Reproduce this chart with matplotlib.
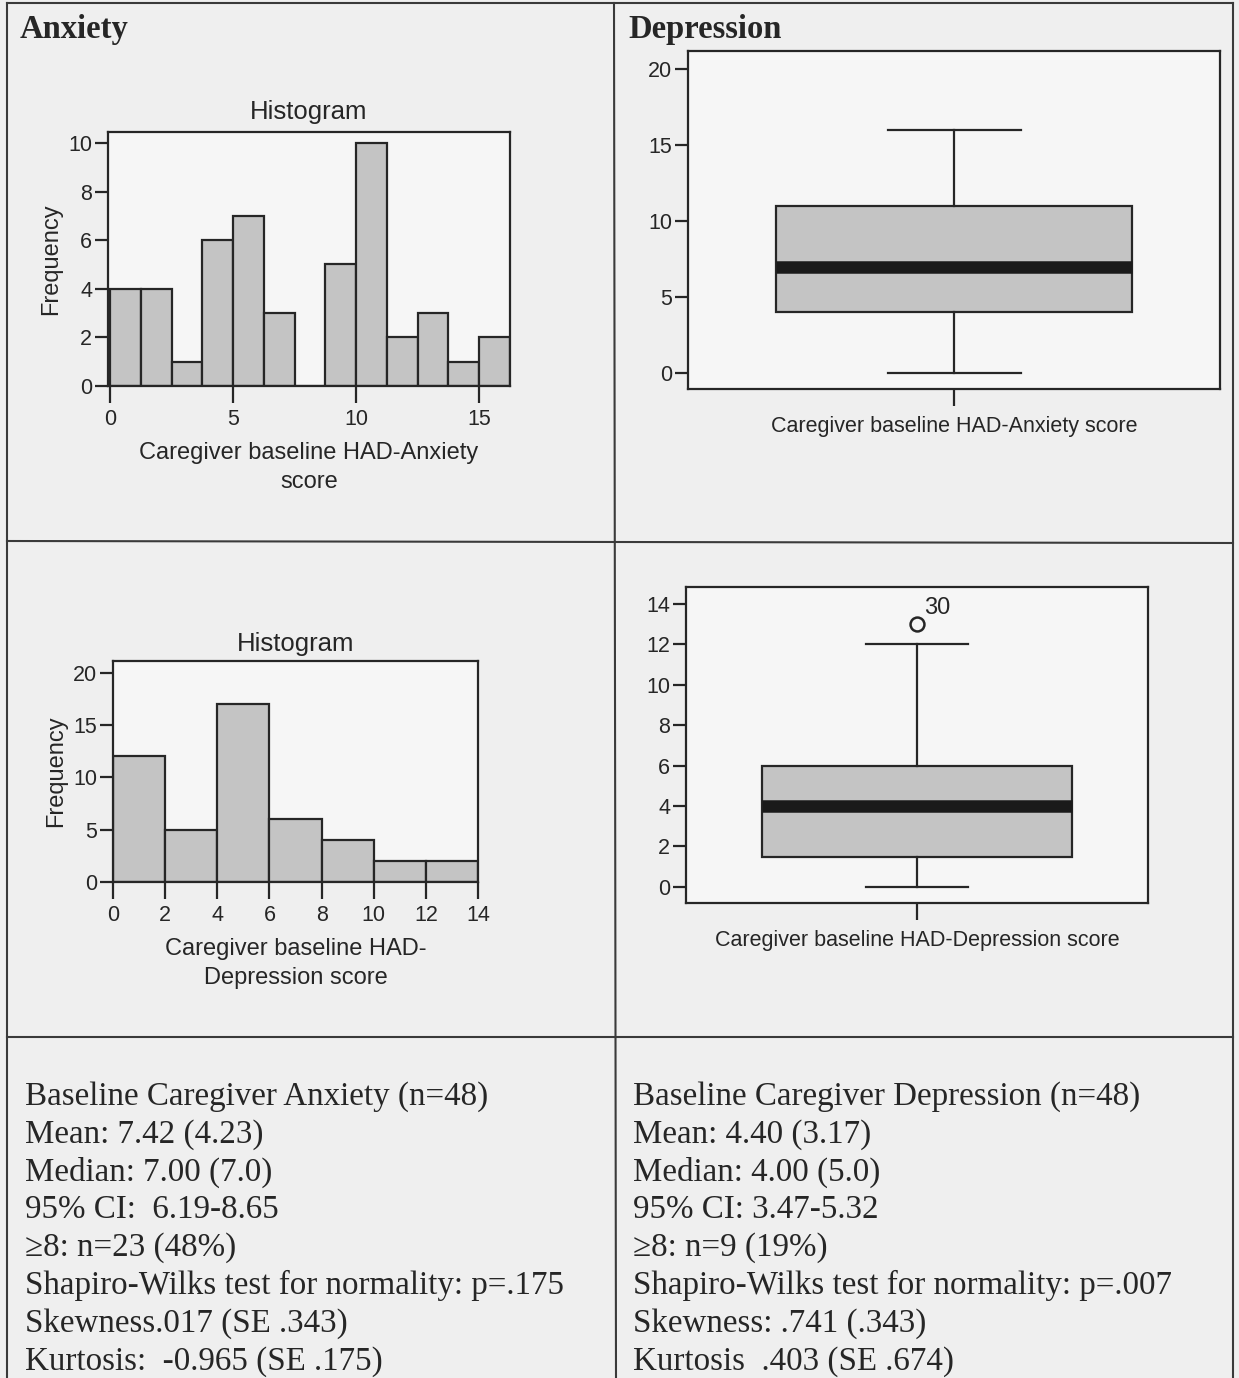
import numpy as np
import matplotlib
matplotlib.use("Agg")
import matplotlib.pyplot as plt

# data
anx_bin_width = 1.25
anx_counts = [4, 4, 1, 6, 7, 3, 0, 5, 10, 2, 3, 1, 2]
dep_bin_width = 2
dep_counts = [12, 5, 17, 6, 4, 2, 2]

anx_box = dict(whislo=0, q1=4, med=7, q3=11, whishi=16, fliers=[])
dep_box = dict(whislo=0, q1=1.5, med=4, q3=6, whishi=12, fliers=[13])
dep_outlier_id = "30"

anx_text = ["Baseline Caregiver Anxiety (n=48)",
            "Mean: 7.42 (4.23)",
            "Median: 7.00 (7.0)",
            "95% CI:  6.19-8.65",
            "\u22658: n=23 (48%)",
            "Shapiro-Wilks test for normality: p=.175",
            "Skewness.017 (SE .343)",
            "Kurtosis:  -0.965 (SE .175)"]
dep_text = ["Baseline Caregiver Depression (n=48)",
            "Mean: 4.40 (3.17)",
            "Median: 4.00 (5.0)",
            "95% CI: 3.47-5.32",
            "\u22658: n=9 (19%)",
            "Shapiro-Wilks test for normality: p=.007",
            "Skewness: .741 (.343)",
            "Kurtosis  .403 (SE .674)"]

W, H = 1239, 1378
BG = "#efefef"
AX_BG = "#f6f6f6"
BAR = "#c4c4c4"
INK = "#262626"
SANS = ["Liberation Sans", "DejaVu Sans"]
SERIF = ["Liberation Serif", "DejaVu Serif"]

fig = plt.figure(figsize=(W / 100, H / 100), dpi=100, facecolor=BG)


def box_px(l, t, r, b):
    return [l / W, 1 - b / H, (r - l) / W, (b - t) / H]


# table grid
grid = fig.add_axes([0, 0, 1, 1])
grid.set_xlim(0, W)
grid.set_ylim(H, 0)
grid.axis("off")
for xs, ys in [([7, 7], [3, H]), ([1233, 1233], [3, H]), ([7, 1233], [3, 3]),
               ([614, 616], [3, H]), ([7, 1233], [541, 543]), ([7, 1233], [1037, 1037])]:
    grid.plot(xs, ys, color="#3a3a3a", lw=1.5)

grid.text(20, 38, "Anxiety", family=SERIF, fontsize=23.5, fontweight="bold", color=INK)
grid.text(628, 38, "Depression", family=SERIF, fontsize=23.5, fontweight="bold", color=INK)

for i, line in enumerate(anx_text):
    grid.text(25, 1105 + i * 37.8, line, family=SERIF, fontsize=23.8, color=INK)
for i, line in enumerate(dep_text):
    grid.text(633, 1105 + i * 37.8, line, family=SERIF, fontsize=23.8, color=INK)


def style(ax):
    ax.set_facecolor(AX_BG)
    for s in ax.spines.values():
        s.set_linewidth(1.6)
        s.set_color(INK)
    ax.tick_params(direction="out", width=1.6, color=INK,
                   labelsize=15.5, labelcolor=INK)
    ax.tick_params(axis="y", length=9.5, pad=2)
    ax.tick_params(axis="x", length=12.5, pad=4)
    for lab in ax.get_xticklabels() + ax.get_yticklabels():
        lab.set_family(SANS)


# anxiety histogram
ax = fig.add_axes(box_px(108, 132, 510, 386))
edges = np.arange(len(anx_counts)) * anx_bin_width
ax.bar(edges, anx_counts, width=anx_bin_width, align="edge", color=BAR,
       edgecolor=INK, linewidth=1.6)
ax.set_xlim(-0.08, len(anx_counts) * anx_bin_width)
ax.set_ylim(0, 10.45)
ax.set_xticks([0, 5, 10, 15])
ax.set_yticks([0, 2, 4, 6, 8, 10])
style(ax)
ax.set_title("Histogram", family=SANS, fontsize=18.5, color=INK, pad=9)
ax.set_ylabel("Frequency", family=SANS, fontsize=17, color=INK, labelpad=4)
ax.set_xlabel("Caregiver baseline HAD-Anxiety\nscore", family=SANS, fontsize=17,
              color=INK, labelpad=9, linespacing=1.38)

# depression histogram
ax = fig.add_axes(box_px(113, 661, 478, 882))
edges = np.arange(len(dep_counts)) * dep_bin_width
ax.bar(edges, dep_counts, width=dep_bin_width, align="edge", color=BAR,
       edgecolor=INK, linewidth=1.6)
ax.set_xlim(0, len(dep_counts) * dep_bin_width)
ax.set_ylim(0, 21.1)
ax.set_xticks(range(0, 15, 2))
ax.set_yticks([0, 5, 10, 15, 20])
style(ax)
ax.set_title("Histogram", family=SANS, fontsize=18.5, color=INK, pad=7)
ax.set_ylabel("Frequency", family=SANS, fontsize=17, color=INK, labelpad=4)
ax.set_xlabel("Caregiver baseline HAD-\nDepression score", family=SANS, fontsize=17,
              color=INK, labelpad=9, linespacing=1.38)


def draw_box(ax, stats, cap):
    ax.bxp([stats], positions=[1], widths=0.67, capwidths=cap, patch_artist=True,
           boxprops=dict(facecolor=BAR, edgecolor=INK, linewidth=1.6),
           medianprops=dict(color="#1a1a1a", linewidth=9, solid_capstyle="butt"),
           whiskerprops=dict(color=INK, linewidth=1.6),
           capprops=dict(color=INK, linewidth=1.6),
           flierprops=dict(marker="o", markerfacecolor="none", markeredgecolor=INK,
                           markersize=10, markeredgewidth=1.8))
    ax.set_xlim(0.5, 1.5)


# anxiety box plot
ax = fig.add_axes(box_px(688, 51, 1220, 389))
draw_box(ax, anx_box, 0.25)
ax.set_ylim(-1.05, 21.2)
ax.set_yticks([0, 5, 10, 15, 20])
style(ax)
ax.set_xticks([1])
ax.set_xticklabels([""])
ax.set_xlabel("Caregiver baseline HAD-Anxiety score", family=SANS, fontsize=15.5,
              color=INK, labelpad=3)

# depression box plot
ax = fig.add_axes(box_px(686, 587, 1148, 903))
draw_box(ax, dep_box, 0.22)
ax.set_ylim(-0.8, 14.84)
ax.set_yticks(range(0, 15, 2))
style(ax)
ax.set_xticks([1])
ax.set_xticklabels([""])
ax.set_xlabel("Caregiver baseline HAD-Depression score", family=SANS, fontsize=15.5,
              color=INK, labelpad=3)
ax.annotate(dep_outlier_id, (1, dep_box["fliers"][0]), xytext=(5, 7),
            textcoords="offset points", family=SANS, fontsize=17, color=INK)

fig.savefig("out.png", dpi=100, facecolor=BG)
